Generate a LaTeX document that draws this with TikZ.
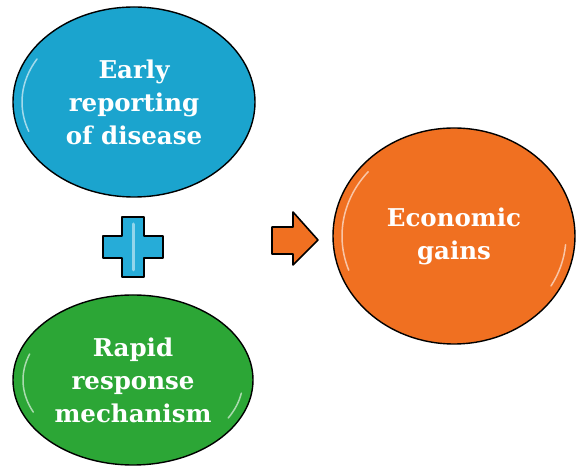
\documentclass[tikz,border=0pt]{standalone}
\usepackage{fontspec}
\setmainfont{DejaVu Serif}
\usetikzlibrary{shapes.geometric}

\definecolor{earlyblue}{RGB}{27,164,206}
\definecolor{rapidgreen}{RGB}{44,166,54}
\definecolor{gainorange}{RGB}{240,112,33}
\definecolor{plusblue}{RGB}{38,172,216}

\begin{document}
\begin{tikzpicture}[x=1pt,y=1pt]
                \useasboundingbox (0,0) rectangle (576,468);
                \begin{scope}[every node/.style={ellipse, draw=black, line width=1.4pt, text=white, align=center,
                                font=\bfseries\fontsize{24.5}{33}\selectfont, inner sep=0}]
                        \node [fill=earlyblue, minimum width=242, minimum height=190] (Early) at (134,366) {Early\\reporting\\of disease};
                        \node [fill=rapidgreen, minimum width=240, minimum height=170] (Rapid) at (133,88) {Rapid\\response\\mechanism};
                        \node [fill=gainorange, minimum width=242, minimum height=216] (Gains) at (454,232) {Economic\\gains};
                \end{scope}

                \begin{scope}[every path/.style={line width=1.6pt, line join=round}]
                        \draw [fill=plusblue] (122,251) -- (144,251) -- (144,232) -- (163,232) -- (163,210) -- (144,210)
                                -- (144,191) -- (122,191) -- (122,210) -- (103,210) -- (103,232) -- (122,232) -- cycle;
                        \draw [fill=gainorange] (272,241) -- (293,241) -- (293,256) -- (318,228) -- (293,203)
                                -- (293,214) -- (272,214) -- cycle;
                \end{scope}

                % glossy highlights
                \begin{scope}[white, line width=1.5pt, line cap=round, opacity=0.6]
                        \draw (Early.center) ++(150:112 and 86) arc (150:200:112 and 86);
                        \draw (Rapid.center) ++(160:110 and 76) arc (160:205:110 and 76);
                        \draw (Gains.center) ++(140:112 and 100) arc (140:200:112 and 100);
                        \draw (Gains.center) ++(-5:112 and 100) arc (-5:-30:112 and 100);
                        \draw (Rapid.center) ++(-10:110 and 76) arc (-10:-30:110 and 76);
                        \draw [line width=3pt, opacity=0.5] (133,244) -- (133,198);
                \end{scope}
        \end{tikzpicture}
\end{document}
